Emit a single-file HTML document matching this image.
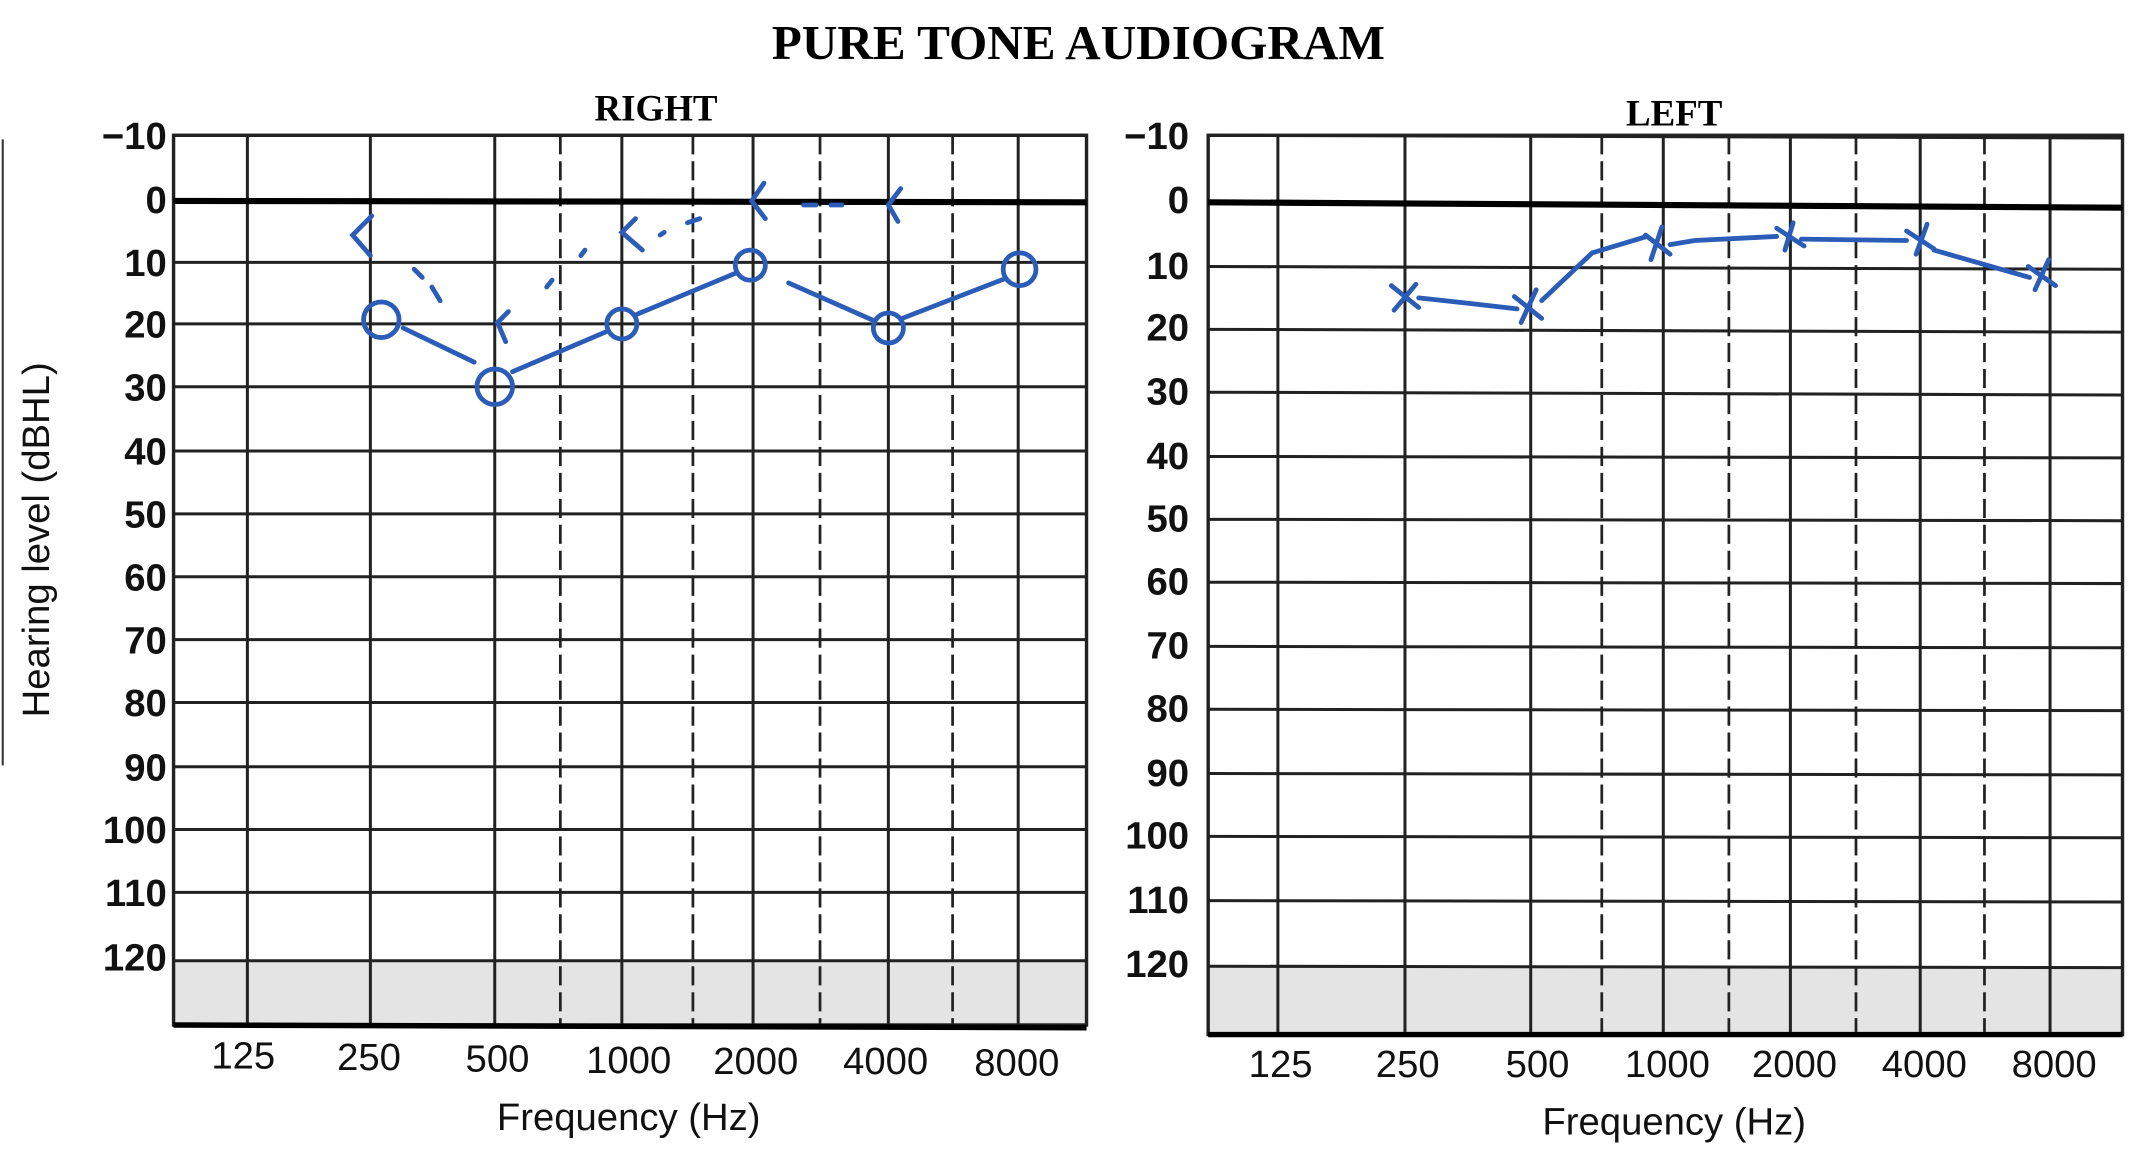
<!DOCTYPE html>
<html><head><meta charset="utf-8"><style>
html,body{margin:0;padding:0;background:#fff;}
svg{display:block;}
.t{font-family:"Liberation Serif",serif;font-weight:bold;fill:#000;}
.n{font-family:"Liberation Sans",sans-serif;font-size:28px;fill:#111;}
.b{font-weight:bold;}
</style></head><body>
<svg width="2143" height="1154" viewBox="0 0 1568 844.4" preserveAspectRatio="none" xmlns="http://www.w3.org/2000/svg">
<rect width="1568" height="845" fill="#fff"/>
<line x1="2" y1="102" x2="2" y2="560" stroke="#333" stroke-width="1.5"/>
<text class="t" x="789" y="43" font-size="36" text-anchor="middle">PURE TONE AUDIOGRAM</text>
<text class="t" x="480" y="88" font-size="27" text-anchor="middle">RIGHT</text>
<text class="t" x="1225" y="92" font-size="27" text-anchor="middle">LEFT</text>
<text class="n" x="0" y="0" transform="translate(36,395) rotate(-90)" text-anchor="middle" font-size="29">Hearing level (dBHL)</text>

<!-- RIGHT chart -->
<g>
<rect x="127" y="703" width="668" height="47" fill="#e4e4e4"/>
<g stroke="#222" stroke-width="2.2">
<line x1="127" y1="99" x2="795" y2="99"/>
<line x1="127" y1="192" x2="795" y2="192"/><line x1="127" y1="237" x2="795" y2="237"/>
<line x1="127" y1="283" x2="795" y2="283"/><line x1="127" y1="330" x2="795" y2="330"/>
<line x1="127" y1="376" x2="795" y2="376"/><line x1="127" y1="422" x2="795" y2="422"/>
<line x1="127" y1="468" x2="795" y2="468"/><line x1="127" y1="514" x2="795" y2="514"/>
<line x1="127" y1="561" x2="795" y2="561"/><line x1="127" y1="607" x2="795" y2="607"/>
<line x1="127" y1="653" x2="795" y2="653"/><line x1="127" y1="703" x2="795" y2="703"/>
<line x1="181" y1="99" x2="181" y2="750"/><line x1="271" y1="99" x2="271" y2="750"/>
<line x1="362" y1="99" x2="362" y2="750"/><line x1="455" y1="99" x2="455" y2="750"/>
<line x1="551" y1="99" x2="551" y2="750"/><line x1="650" y1="99" x2="650" y2="750"/>
<line x1="745" y1="99" x2="745" y2="750"/>
</g>
<g stroke="#222" stroke-width="2" stroke-dasharray="14,5">
<line x1="410" y1="99" x2="410" y2="750"/><line x1="507" y1="99" x2="507" y2="750"/>
<line x1="600" y1="99" x2="600" y2="750"/><line x1="697" y1="99" x2="697" y2="750"/>
</g>
<rect x="127" y="99" width="668" height="651" fill="none" stroke="#222" stroke-width="2.5"/>
<line x1="127" y1="147" x2="795" y2="148" stroke="#000" stroke-width="4.5"/>
<line x1="127" y1="750" x2="795" y2="752" stroke="#000" stroke-width="4"/>
<g class="n b" text-anchor="end" font-size="29">
<text x="122" y="109">−10</text><text x="122" y="156">0</text><text x="122" y="202">10</text>
<text x="122" y="247">20</text><text x="122" y="293">30</text><text x="122" y="340">40</text>
<text x="122" y="386">50</text><text x="122" y="432">60</text><text x="122" y="478">70</text>
<text x="122" y="524">80</text><text x="122" y="571">90</text><text x="122" y="617">100</text>
<text x="122" y="663">110</text><text x="122" y="710">120</text>
</g>
<g class="n" text-anchor="middle">
<text x="178" y="782">125</text><text x="270" y="783">250</text><text x="364" y="784">500</text>
<text x="460" y="785">1000</text><text x="553" y="786">2000</text><text x="648" y="786">4000</text>
<text x="744" y="787">8000</text>
<text x="460" y="827">Frequency (Hz)</text>
</g>
<g stroke="#2a5cb8" stroke-width="3.5" fill="none" stroke-linecap="round">
<circle cx="279" cy="234" r="13"/><circle cx="362" cy="283" r="13"/>
<circle cx="455" cy="237" r="11"/><circle cx="549" cy="194" r="11"/>
<circle cx="650" cy="240" r="11"/><circle cx="746" cy="197" r="12"/>
<line x1="295" y1="240" x2="347" y2="265"/>
<line x1="375" y1="272" x2="443" y2="243"/>
<line x1="466" y1="230" x2="538" y2="200"/>
<line x1="577" y1="207" x2="638" y2="234"/>
<line x1="660" y1="233" x2="735" y2="204"/>
<polyline points="272,158 258,172 271,187"/>
<polyline points="372,228 364,236 370,250"/>
<polyline points="465,160 455,170 470,183"/>
<polyline points="559,134 550,147 560,160"/>
<polyline points="659,138 650,150 657,162"/>
<line x1="303" y1="197" x2="309" y2="203"/>
<line x1="316" y1="210" x2="322" y2="220"/>
<line x1="400" y1="210" x2="404" y2="205"/>
<line x1="425" y1="187" x2="428" y2="183"/>
<line x1="483" y1="172" x2="486" y2="170"/>
<line x1="503" y1="163" x2="512" y2="160"/>
<line x1="588" y1="150" x2="597" y2="150"/>
<line x1="608" y1="150" x2="616" y2="150"/>
</g>
</g>

<!-- LEFT chart -->
<g>
<rect x="884" y="707" width="669" height="50" fill="#e4e4e4"/>
<g stroke="#222" stroke-width="2.2">
<line x1="884" y1="99" x2="1553" y2="101"/>
<line x1="884" y1="195" x2="1553" y2="197"/><line x1="884" y1="241" x2="1553" y2="243"/>
<line x1="884" y1="287" x2="1553" y2="289"/><line x1="884" y1="334" x2="1553" y2="335"/>
<line x1="884" y1="380" x2="1553" y2="381"/><line x1="884" y1="426" x2="1553" y2="427"/>
<line x1="884" y1="473" x2="1553" y2="474"/><line x1="884" y1="519" x2="1553" y2="520"/>
<line x1="884" y1="566" x2="1553" y2="567"/><line x1="884" y1="612" x2="1553" y2="613"/>
<line x1="884" y1="659" x2="1553" y2="660"/><line x1="884" y1="707" x2="1553" y2="708"/>
<line x1="935" y1="99" x2="935" y2="757"/><line x1="1028" y1="99" x2="1028" y2="757"/>
<line x1="1120" y1="99" x2="1120" y2="757"/><line x1="1217" y1="99" x2="1217" y2="757"/>
<line x1="1310" y1="99" x2="1310" y2="757"/><line x1="1405" y1="99" x2="1405" y2="757"/>
<line x1="1500" y1="99" x2="1500" y2="757"/>
</g>
<g stroke="#222" stroke-width="2" stroke-dasharray="14,5">
<line x1="1172" y1="99" x2="1172" y2="757"/><line x1="1265" y1="99" x2="1265" y2="757"/>
<line x1="1358" y1="99" x2="1358" y2="757"/><line x1="1452" y1="99" x2="1452" y2="757"/>
</g>
<rect x="884" y="99" width="669" height="658" fill="none" stroke="#222" stroke-width="2.5"/>
<line x1="884" y1="148" x2="1553" y2="152" stroke="#000" stroke-width="4.5"/>
<line x1="884" y1="757" x2="1553" y2="757" stroke="#000" stroke-width="4"/>
<g class="n b" text-anchor="end" font-size="29">
<text x="870" y="109">−10</text><text x="870" y="156">0</text><text x="870" y="204">10</text>
<text x="870" y="249">20</text><text x="870" y="296">30</text><text x="870" y="343">40</text>
<text x="870" y="389">50</text><text x="870" y="435">60</text><text x="870" y="482">70</text>
<text x="870" y="528">80</text><text x="870" y="575">90</text><text x="870" y="621">100</text>
<text x="870" y="668">110</text><text x="870" y="715">120</text>
</g>
<g class="n" text-anchor="middle">
<text x="937" y="788">125</text><text x="1030" y="788">250</text><text x="1125" y="788">500</text>
<text x="1220" y="788">1000</text><text x="1313" y="788">2000</text><text x="1408" y="788">4000</text>
<text x="1503" y="788">8000</text>
<text x="1225" y="830">Frequency (Hz)</text>
</g>
<g stroke="#2a5cb8" stroke-width="3.5" fill="none" stroke-linecap="round">
<polyline points="1038,218 1075,222 1110,226"/>
<polyline points="1128,220 1165,185 1205,173"/>
<polyline points="1222,179 1240,176 1300,173"/>
<polyline points="1318,175 1395,176"/>
<polyline points="1415,183 1485,203"/>
<path d="M1018,209 L1038,225 M1036,208 L1020,227"/>
<path d="M1108,217 L1128,233 M1124,212 L1113,236"/>
<path d="M1204,172 L1222,186 M1216,166 L1208,190"/>
<path d="M1300,167 L1320,180 M1312,163 L1306,183"/>
<path d="M1395,169 L1415,182 M1410,164 L1402,186"/>
<path d="M1484,195 L1504,209 M1499,190 L1489,212"/>
</g>
</g>
</svg>
</body></html>
